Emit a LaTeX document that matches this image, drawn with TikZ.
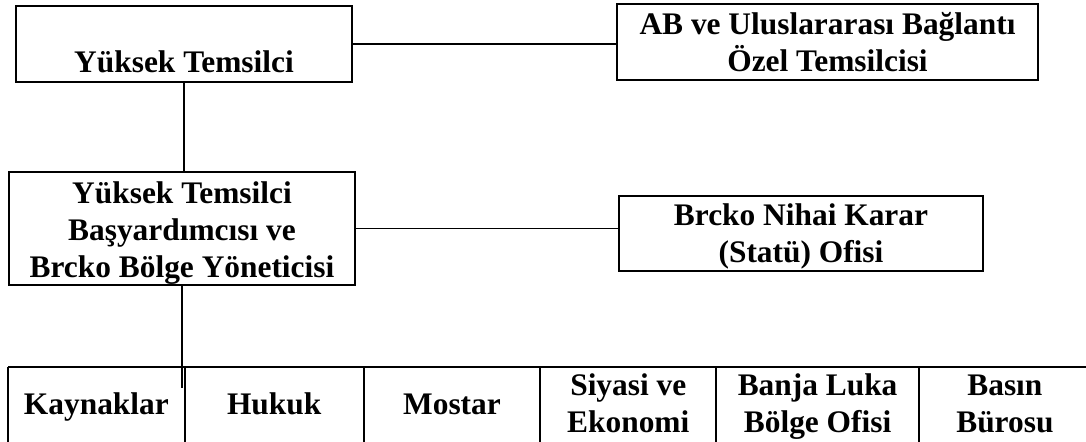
\documentclass[tikz,border=0pt]{standalone}
\usepackage{fontspec}
\setmainfont{Liberation Serif}
\usetikzlibrary{positioning}

\begin{document}
\begin{tikzpicture}[
            x=0.5pt, y=-0.5pt, % pixel-like grid, y going down
            unitbox/.style={draw, line width=1pt, inner sep=0pt, align=center, font=\bfseries\fontsize{15.7}{18.5}\selectfont}, % office boxes
            cell/.style={inner sep=0pt, align=center, text height=23.5pt, text depth=13.5pt, font=\bfseries\fontsize{15.7}{18.5}\selectfont}, % bottom row cells
            twocell/.style={cell, text height=32.5pt, text depth=4.5pt}, % cells with two lines
            link/.style={line width=0.75pt}, % connectors
            grid/.style={line width=1pt} % bottom row rules
            ]
                \useasboundingbox (0,0) rectangle (1086,441);

                % Top level and its special representative
                \node[unitbox, minimum width=168pt, text height=33pt, text depth=5pt] (yt) at (184,44) {Yüksek Temsilci};
                \node[unitbox, minimum width=210.5pt, text height=33.5pt, text depth=4.5pt] (ab) at (827.5,42) {AB ve Uluslararası Bağlantı\\Özel Temsilcisi};

                % Principal deputy and the Brcko office
                \node[unitbox, minimum width=173pt, text height=52.5pt, text depth=4pt] (bty) at (182,228.5) {Yüksek Temsilci\\Başyardımcısı ve\\Brcko Bölge Yöneticisi};
                \node[unitbox, minimum width=182pt, text height=33pt, text depth=4.5pt] (bnk) at (801,233.5) {Brcko Nihai Karar\\(Statü) Ofisi};

                % Bottom row of departments
                \node[cell, minimum width=88pt, anchor=north west] (kay) at (8,367) {Kaynaklar};
                \node[cell, minimum width=89pt, right=0pt of kay] (huk) {Hukuk};
                \node[cell, minimum width=88pt, right=0pt of huk] (mos) {Mostar};
                \node[twocell, minimum width=87.5pt, right=0pt of mos] (siy) {Siyasi ve\\Ekonomi};
                \node[twocell, minimum width=101pt, right=0pt of siy] (ban) {Banja Luka\\Bölge Ofisi};
                \node[twocell, minimum width=85.5pt, right=0pt of ban] (bas) {Basın\\Bürosu};

                \draw[grid] (kay.north west) -- (bas.north east);
                \foreach \c in {kay,huk,mos,siy,ban,bas}
                    \draw[grid] (\c.north west) -- (\c.south west);

                % Connectors
                \coordinate (tip) at (183,388);
                \draw[link] (yt.east) -- (yt.east -| ab.west);
                \draw[link] (yt.south) -- (yt.south |- bty.north);
                \draw[link] (bty.east) -- (bty.east -| bnk.west);
                \draw[link] (bty.south) -- (bty.south |- tip);

            \end{tikzpicture}
\end{document}
